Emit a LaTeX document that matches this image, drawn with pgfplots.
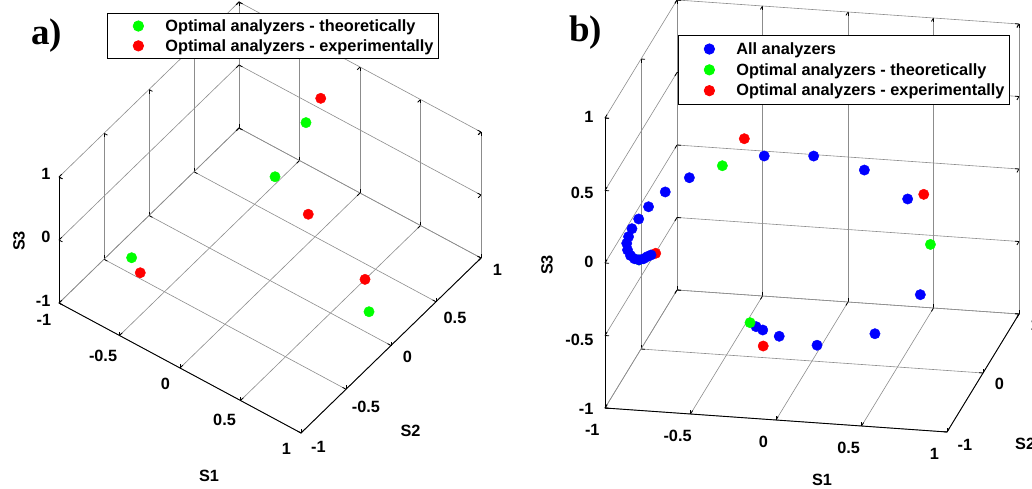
\documentclass[border=0pt]{standalone}
\usepackage{fontspec}
\setmainfont{Liberation Sans}
\newfontfamily\serifbf{Liberation Serif}
\usepackage{pgfplots}
\pgfplotsset{compat=1.18}
\definecolor{mgreen}{RGB}{0,255,0}
\definecolor{mred}{RGB}{255,0,0}
\definecolor{mblue}{RGB}{0,0,255}
\definecolor{gridgray}{RGB}{140,140,140}
\newcommand{\lblfont}{\fontsize{16.3}{18}\selectfont\bfseries}
\pgfplotsset{
  mystyle/.style={
    xmin=-1,xmax=1,ymin=-1,ymax=1,zmin=-1,zmax=1,
    clip=false,
    grid=major,
    major grid style={gridgray, line width=0.6pt},
    axis line style={draw=none},
    tick style={black, line width=0.8pt},
    major tick length=4pt,
    tick label style={font=\lblfont},
    legend cell align=left,
    legend image code/.code={\path[draw=none,fill=none] (-26pt,0pt) (16pt,0pt); \draw[##1] plot coordinates {(0pt,0pt)};},
  },
  dot/.style={only marks, mark=*, mark size=5.2pt, color=#1, mark options={draw=#1, fill=#1}},
}
\begin{document}
\begin{tikzpicture}
\useasboundingbox (0pt,0pt) rectangle (1032pt,488pt);
% ---------------- panel a ----------------
\begin{axis}[mystyle, at={(270pt,270.5pt)}, anchor=origin,
  x={(121pt,-65pt)}, y={(90pt,87.5pt)}, z={(0pt,63pt)},
  xtick={-1,-0.5,0,0.5,1}, ytick={-1,-0.5,0,0.5,1}, ztick={-1,0,1},
  xticklabels={-1,-0.5,0,0.5,1}, yticklabels={-1,-0.5,0,0.5,1}, zticklabels={-1,0,1},
  xticklabel style={xshift=-10pt, yshift=-5pt},
  yticklabel style={xshift=10pt, yshift=-1pt},
  zticklabel style={xshift=-5pt, yshift=4pt},
  legend style={draw=black, line width=0.8pt, fill=white, inner xsep=5pt, inner ysep=6pt,
    row sep=6.5pt, column sep=11pt, font=\lblfont, nodes={inner sep=0pt},
    at={(0.1137,0.9745)}, anchor=north west},
]
\addplot3[dot=mgreen] coordinates {
  (-0.643,-0.673,-0.367) (0.142,-0.135,0.981) (-0.381,0.912,-0.154) (0.886,-0.091,-0.455)};
\addlegendentry{Optimal analyzers - theoretically}
\addplot3[dot=mred] coordinates {
  (-0.542,-0.713,-0.446) (0.479,-0.219,0.850) (-0.219,0.858,0.474) (0.580,0.276,-0.767)};
\addlegendentry{Optimal analyzers - experimentally}
\draw[black, line width=0.9pt] (axis cs:-1,-1,-1) -- (axis cs:1,-1,-1) -- (axis cs:1,1,-1);
\draw[black, line width=0.9pt] (axis cs:-1,-1,-1) -- (axis cs:-1,-1,1);
\end{axis}
% ---------------- panel b ----------------
\begin{axis}[mystyle, at={(812pt,272pt)}, anchor=origin,
  x={(171pt,-12pt)}, y={(36pt,59pt)}, z={(0pt,145pt)},
  xtick={-1,-0.5,0,0.5,1}, ytick={-1,0,1}, ztick={-1,-0.5,0,0.5,1},
  xticklabels={-1,-0.5,0,0.5,1}, yticklabels={-1,0,1}, zticklabels={-1,-0.5,0,0.5,1},
  xticklabel style={xshift=-10pt, yshift=-12pt},
  yticklabel style={xshift=8pt, yshift=-2pt},
  zticklabel style={xshift=-8pt, yshift=5pt},
  legend style={draw=black, line width=0.8pt, fill=white, inner xsep=5pt, inner ysep=7pt,
    row sep=7.5pt, column sep=11pt, font=\lblfont, nodes={inner sep=0pt},
    at={(0.1763,0.919)}, anchor=north west},
]
% hidden theoretical point and one experimental point lying behind the blue cluster
\addplot3[dot=mgreen, forget plot] coordinates {(-0.947,-0.308,-0.256)};
\addplot3[dot=mred, forget plot] coordinates {(-0.929,0.071,-0.363)};
\addplot3[dot=mblue] coordinates {
  (-0.130,-0.710,0.692) (0.155,-0.690,0.707) (0.443,-0.650,0.618) (0.685,-0.597,0.417)
  (0.761,-0.606,-0.233) (0.517,-0.708,-0.481) (0.201,-0.815,-0.543) (-0.006,-0.882,-0.471)
  (-0.099,-0.898,-0.429) (-0.137,-0.903,-0.407)
  (-0.579,-0.656,0.483) (-0.735,-0.585,0.343) (-0.854,-0.484,0.190) (-0.945,-0.326,0.034)
  (-1.002,-0.242,-0.072) (-1.017,-0.265,-0.119) (-1.024,-0.283,-0.158) (-1.016,-0.298,-0.197)
  (-0.997,-0.307,-0.230) (-0.973,-0.310,-0.249) (-0.947,-0.308,-0.256) (-0.922,-0.300,-0.249)
  (-0.901,-0.290,-0.236) (-0.882,-0.282,-0.227)};
\addlegendentry{All analyzers}
\addplot3[dot=mgreen] coordinates {
  (-0.376,-0.704,0.602) (0.813,-0.572,0.104) (-0.171,-0.909,-0.380)};
\addlegendentry{Optimal analyzers - theoretically}
\addplot3[dot=mred] coordinates {
  (-0.270,-0.598,0.754) (0.759,-0.501,0.416) (-0.115,-0.809,-0.577)};
\addlegendentry{Optimal analyzers - experimentally}
\draw[black, line width=0.9pt] (axis cs:-1,-1,-1) -- (axis cs:1,-1,-1) -- (axis cs:1,1,-1);
\draw[black, line width=0.9pt] (axis cs:-1,-1,-1) -- (axis cs:-1,-1,1);
\end{axis}
% axis titles and panel labels
\node[font=\lblfont] at (209pt,12pt) {S1};
\node[font=\lblfont] at (410.5pt,57pt) {S2};
\node[font=\lblfont, rotate=90] at (19pt,247pt) {S3};
\node[font=\lblfont] at (822pt,8pt) {S1};
\node[font=\lblfont, anchor=west, inner sep=0pt] at (1015pt,44pt) {S2};
\node[font=\lblfont, rotate=90] at (547pt,223pt) {S3};
\node[anchor=base west, inner sep=0pt, font=\serifbf\bfseries\fontsize{37}{40}\selectfont] at (31pt,443pt) {a)};
\node[anchor=base west, inner sep=0pt, font=\serifbf\bfseries\fontsize{37}{40}\selectfont] at (569pt,446pt) {b)};
\end{tikzpicture}
\end{document}
